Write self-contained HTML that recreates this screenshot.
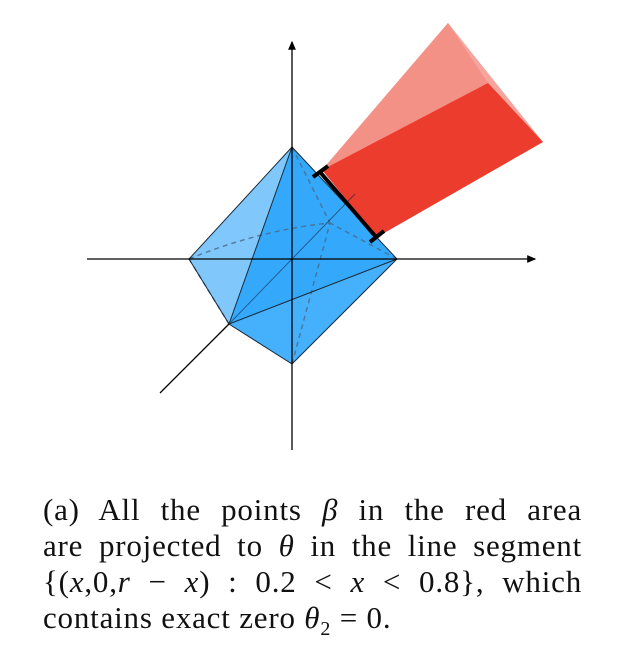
<!DOCTYPE html>
<html><head><meta charset="utf-8"><style>
body{margin:0;background:#fff;width:618px;height:668px;overflow:hidden;position:relative}
.ln{position:absolute;left:43px;width:539px;font-family:"Liberation Serif",serif;font-size:31px;letter-spacing:0.8px;line-height:32px;text-align:justify;text-align-last:justify;color:#111;white-space:nowrap}
.l4{text-align-last:left}
i{font-style:italic}
</style></head><body>
<svg width="618" height="470" style="position:absolute;left:0;top:0">
<defs><marker id="ar" markerWidth="8" markerHeight="8" refX="6" refY="3" orient="auto"><path d="M0,0 L7,3 L0,6z" fill="#000"/></marker></defs>
<g>
<polygon points="322,170 448,23 543,142 377,237" fill="#f4a098" opacity="0.95"/>
<polygon points="322,170 448,23 488,83" fill="#f39186"/>
<polygon points="322,170 488,83 543,142 377,237" fill="#ec3c2e"/>
</g>
<g>
<polygon points="189,259 292,147 229,324" fill="#80c8fc"/>
<polygon points="292,147 397,259 292,364 229,324" fill="#34a9fc"/>
<polygon points="229,324 397,259 292,364" fill="#45b1fc"/>
<g stroke="#4a6a8a" stroke-width="1.5" stroke-dasharray="5,4" fill="none" opacity="0.8">
<path d="M189,259 Q260,230 330,223"/><line x1="292" y1="147" x2="330" y2="223"/>
<line x1="397" y1="259" x2="330" y2="223"/><line x1="292" y1="364" x2="330" y2="223"/>
<line x1="189" y1="259" x2="229" y2="324"/>
</g>
<g stroke="#1a2a3a" stroke-width="1" fill="none">
<polyline points="189,259 292,147 397,259 292,364 229,324 189,259"/>
<line x1="292" y1="147" x2="229" y2="324"/><line x1="229" y1="324" x2="397" y2="259"/>
<line x1="229" y1="324" x2="355" y2="194" stroke-opacity="0.6"/>
</g>
</g>
<g stroke="#000" stroke-width="1.3">
<line x1="292" y1="450" x2="292" y2="42" marker-end="url(#ar)"/>
<line x1="87" y1="259" x2="535" y2="259" marker-end="url(#ar)"/>
<line x1="160" y1="393" x2="229" y2="324"/>
</g>
<g stroke="#000" stroke-width="4">
<line x1="320" y1="172" x2="376" y2="237"/>
<line x1="313" y1="177" x2="328" y2="166"/><line x1="370" y1="242" x2="384" y2="231"/>
</g>
</svg>
<div>
<div class="ln" style="top:494px">(a) All the points <i>β</i> in the red area</div>
<div class="ln" style="top:530px">are projected to <i>θ</i> in the line segment</div>
<div class="ln" style="top:566px">{(<i>x</i>,0,<i>r</i> − <i>x</i>) : 0.2 &lt; <i>x</i> &lt; 0.8}, which</div>
<div class="ln l4" style="top:602px">contains exact zero <i>θ</i><sub style="font-size:20px">2</sub> = 0.</div>
</div>
</body></html>
